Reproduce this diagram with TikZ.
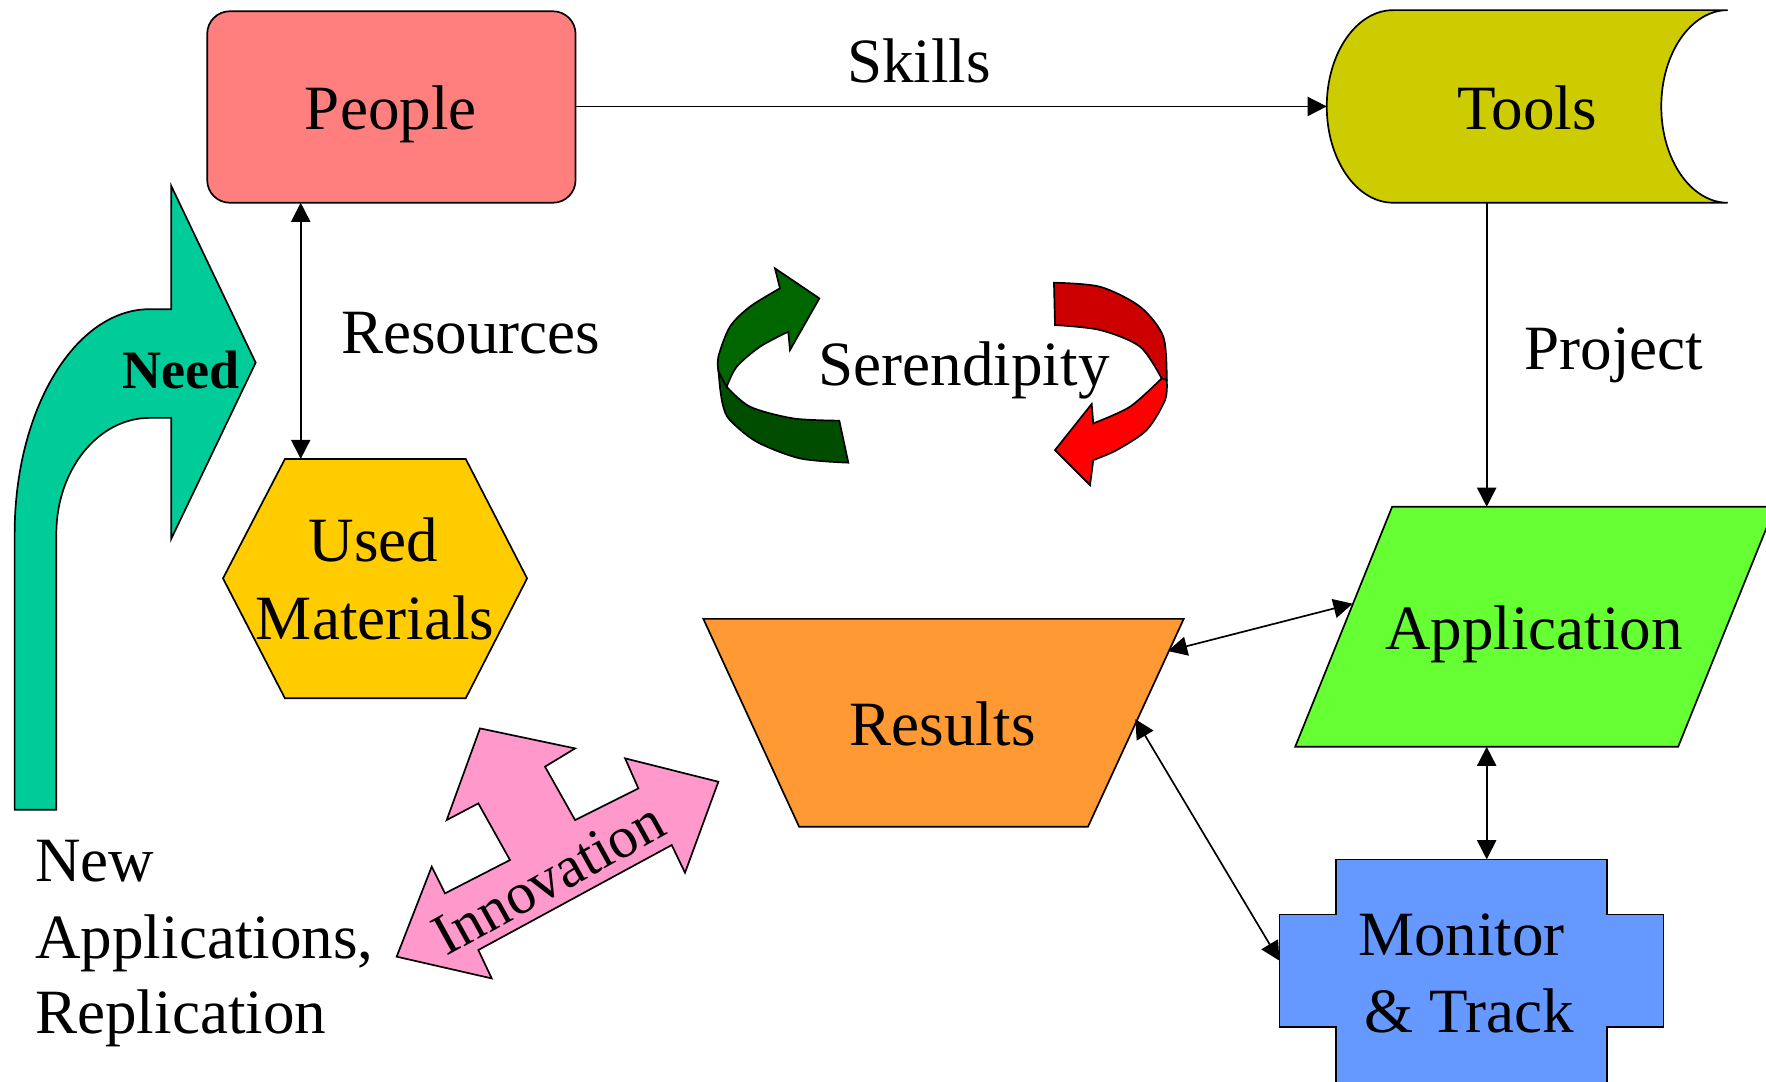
\documentclass[tikz,border=0pt]{standalone}
\usepackage{fontspec}
\setmainfont{Liberation Serif}
\usetikzlibrary{arrows.meta}
\definecolor{peoplec}{HTML}{FF7F7F}
\definecolor{toolsc}{HTML}{CCCC00}
\definecolor{usedc}{HTML}{FFCC00}
\definecolor{appc}{HTML}{66FF33}
\definecolor{resc}{HTML}{FF9933}
\definecolor{monc}{HTML}{6699FF}
\definecolor{needc}{HTML}{00CC99}
\definecolor{innoc}{HTML}{FF99CC}
\definecolor{grnA}{HTML}{006600}
\definecolor{grnB}{HTML}{004D00}
\definecolor{redA}{HTML}{CC0000}
\definecolor{redB}{HTML}{FF0000}
\tikzset{
  shapeline/.style={draw=black, line width=0.75pt, line join=miter},
  lbl/.style={font=\fontsize{28}{34}\selectfont, inner sep=0pt, anchor=base},
  lblw/.style={lbl, anchor=base west},
  conn/.style={line width=0.75pt, -{Triangle[length=8.5pt,width=8.5pt]}},
  dconn/.style={line width=0.75pt, {Triangle[length=8.5pt,width=8.5pt]}-{Triangle[length=8.5pt,width=8.5pt]}}
}
\begin{document}
\begin{tikzpicture}[x=0.5pt,y=-0.5pt]
\clip (0,0) rectangle (1568,960);
\fill[white] (0,0) rectangle (1568,960);

% People
\draw[shapeline, fill=peoplec, rounded corners=10pt] (184,10) rectangle (511,180);
% Tools
\draw[shapeline, fill=toolsc] (1237,9) .. controls (1204.4,9) and (1178,47.3) .. (1178,94.5)
  .. controls (1178,141.7) and (1204.4,180) .. (1237,180) -- (1534,180)
  .. controls (1501.4,180) and (1475,141.7) .. (1475,94.5)
  .. controls (1475,47.3) and (1501.4,9) .. (1534,9) -- cycle;
% Used Materials
\draw[shapeline, fill=usedc] (253,407.5) -- (413.5,407.5) -- (468,513.5) -- (413.5,620) -- (253,620) -- (198,513.5) -- cycle;
% Application
\draw[shapeline, fill=appc] (1236,450) -- (1576,450) -- (1490,663) -- (1150,663) -- cycle;
% Results
\draw[shapeline, fill=resc] (624.5,549.5) -- (1051,549.5) -- (966,734) -- (709.5,734) -- cycle;
% Monitor & Track
\draw[shapeline, fill=monc] (1186,763) -- (1427,763) -- (1427,812) -- (1477,812) -- (1477,912) -- (1427,912) -- (1427,970) -- (1186,970) -- (1186,912) -- (1136,912) -- (1136,812) -- (1186,812) -- cycle;
% Need arrow
\draw[shapeline, fill=needc] (13,719) -- (13,474) .. controls (13,363.5) and (66.7,274.5) .. (133,274.5)
  -- (152,274.5) -- (152,165) -- (227,322) -- (152,478.5) -- (152,371) -- (133,371)
  .. controls (87.2,371) and (50,417.1) .. (50,474) -- (50,719) -- cycle;
% Innovation arrow
\draw[shapeline, fill=innoc] (352.2,849.4) -- (383.3,769.5) -- (395.1,793.2) -- (452.8,763.6) -- (424.7,713.3)
  -- (396.6,728.1) -- (426.2,646.7) -- (510.6,664.5) -- (483.9,680.7) -- (510.6,728.1) -- (566.8,700.0)
  -- (555.0,673.3) -- (637.8,694.1) -- (608.2,774.9) -- (596.4,750.3) -- (424.7,843.5) -- (436.6,868.7) -- cycle;
% Serendipity green arrow
\draw[shapeline, fill=grnB] plot[smooth] coordinates {(745.2,373.5) (704.4,371.5) (665.9,361.1) (645.2,343.4)}
  -- (638,330) -- plot[smooth] coordinates {(638,330) (639.5,346) (642.2,361.1) (648.1,373) (671.8,392.2) (710.3,407) (753.2,410.8)} -- cycle;
\draw[shapeline, fill=grnA] (645.2,343.4) -- (638,330)
  -- plot[smooth] coordinates {(638,330) (637.8,316.7) (648.1,290.1) (665.9,272.3) (692.5,256)}
  -- (688.1,238.3) -- (727.5,264.9) -- (701.4,310.8) -- (699.9,294.5)
  -- plot[smooth] coordinates {(699.9,294.5) (674.8,307.8) (654.1,325.6) (645.2,343.4)} -- cycle;
% Serendipity red arrow
\draw[shapeline, fill=redA] plot[smooth] coordinates {(935.8,251) (976.7,254.6) (1012.2,272.3) (1032.9,299) (1035.9,337.4)}
  -- (1031.4,336) -- plot[smooth] coordinates {(1031.4,336) (1012.2,307.8) (976.7,293) (936.7,288.6)} -- cycle;
\draw[shapeline, fill=redB] plot[smooth] coordinates {(1035.9,337.4) (1034.4,355.2) (1018.1,381.8) (991.5,399.6) (970.7,408.5)}
  -- (967.8,430.7) -- (936.7,399.6) -- (969.3,358.7) -- (970.7,375.9)
  -- plot[smooth] coordinates {(970.7,375.9) (1003.3,361.1) (1031.4,336)} -- cycle;

% Connector end points
\coordinate (pR) at (511,94.5);
\coordinate (tL) at (1178,94.5);
\coordinate (pB) at (267,180);
\coordinate (umT) at (267,407.5);
\coordinate (tB) at (1320,180);
\coordinate (aT) at (1320,450);
\coordinate (aL) at (1201,536);
\coordinate (rRa) at (1037,578);
\coordinate (aB) at (1320,663);
\coordinate (mT) at (1320,763);
\coordinate (rRb) at (1008,638.5);
\coordinate (mL) at (1136,853);

\draw[conn] (pR) -- (tL);
\draw[dconn] (pB) -- (umT);
\draw[conn] (tB) -- (aT);
\draw[dconn] (rRa) -- (aL);
\draw[dconn] (aB) -- (mT);
\draw[dconn] (rRb) -- (mL);

% Texts
\node[lbl] (people) at (347,115) {People};
\node[lbl] (tools) at (1356,115.4) {Tools};
\node[lbl] (skills) at (816,73) {Skills};
\node[lbl] (resources) at (418,314) {Resources};
\node[lbl] (project) at (1433,328) {Project};
\node[lbl] (serendipity) at (856,342) {Serendipity};
\node[lbl, font=\fontsize{24}{28}\selectfont\bfseries] (need) at (161,344.6) {Need};
\node[lbl] (used) at (331.5,498.7) {Used};
\node[lbl] (materials) at (333,567.4) {Materials};
\node[lbl] (application) at (1362,577) {Application};
\node[lbl] (results) at (837,662) {Results};
\node[lbl] (monitor) at (1297.7,848.5) {Monitor};
\node[lbl] (track) at (1304.3,916.6) {\& Track};
\node[lblw] (newA) at (31,783) {New};
\node[lblw] (newB) at (31,851) {Applications,};
\node[lblw] (newC) at (31,918) {Replication};
\node[font=\fontsize{26}{31}\selectfont, inner sep=0pt, rotate=29] (innovation) at (487,780) {Innovation};
\end{tikzpicture}
\end{document}
